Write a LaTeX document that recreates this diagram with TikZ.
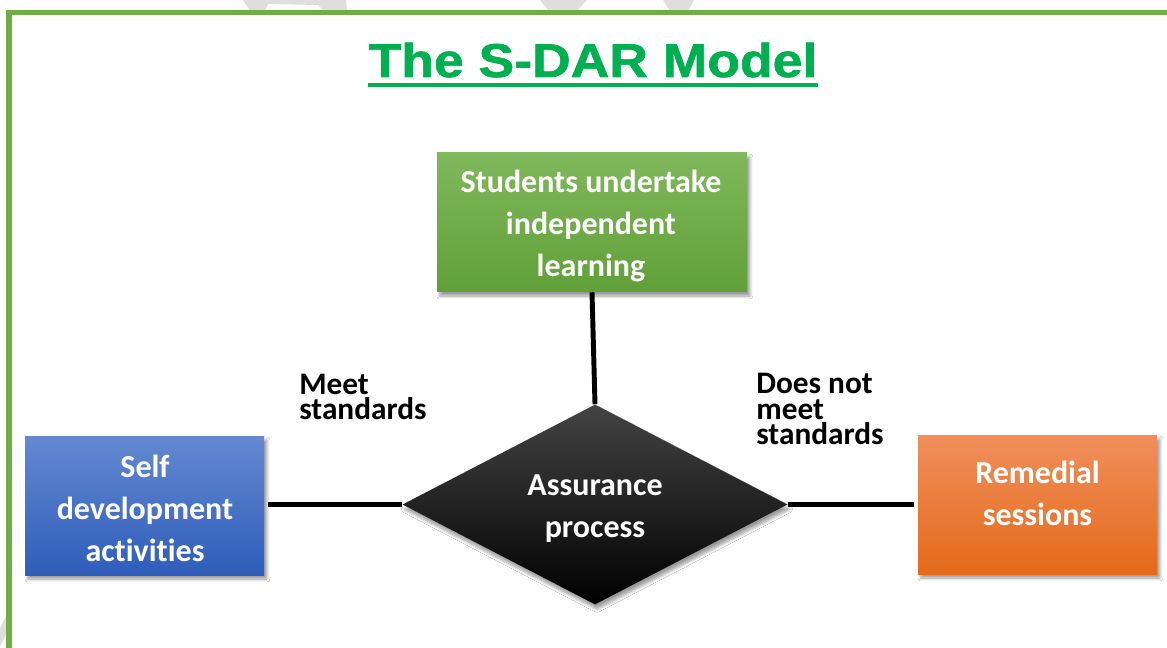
\documentclass[tikz,border=0pt]{standalone}
\usepackage{fontspec}
\setmainfont{Carlito}[Ligatures=NoCommon]
\newfontfamily\titlefont[FakeStretch=1.13,FakeBold=1.4]{Liberation Sans Bold}
\usetikzlibrary{shapes.geometric,shadows.blur}

\definecolor{framegreen}{RGB}{112,173,71}
\definecolor{titlegreen}{RGB}{0,176,80}
\definecolor{faintgrey}{RGB}{222,222,222}
\definecolor{gtop}{RGB}{128,184,92}
\definecolor{gbot}{RGB}{96,160,56}
\definecolor{btop}{RGB}{100,137,209}
\definecolor{bbot}{RGB}{46,93,186}
\definecolor{otop}{RGB}{240,143,92}
\definecolor{omid}{RGB}{242,122,40}
\definecolor{obot}{RGB}{228,106,26}
\definecolor{dtop}{RGB}{68,68,68}

\tikzset{
  softshadow/.style={blur shadow={shadow xshift=2.2pt,shadow yshift=-3pt,
      shadow blur radius=2.2pt,shadow blur steps=6,shadow opacity=40}},
  panel/.style={rectangle,inner sep=0pt,softshadow},
  boxtext/.style={font=\bfseries\fontsize{24}{31.5}\selectfont,text=white,
      align=center,inner sep=0pt,anchor=base},
  sidelabel/.style={font=\bfseries\fontsize{23.5}{19.5}\selectfont,text=black,
      align=left,inner sep=0pt,anchor=base west},
  conn/.style={line width=3.7pt,black},
}

\begin{document}
\begin{tikzpicture}[x=0.75pt,y=-0.75pt]
\useasboundingbox (0,0) rectangle (1167,648);
\fill[white] (0,0) rectangle (1167,648);

% faint background mark, mostly hidden above the frame
\fill[faintgrey] (243,0) -- (346,0) -- (347,11) -- (324,11) -- (318,5) -- (268,4)
  -- (265,11) -- (250,11) -- cycle;
\fill[faintgrey] (540,0) -- (587,0) -- (577,11) -- (549,11) -- cycle;
\fill[faintgrey] (663,0) -- (694,0) -- (688,11) -- (670,11) -- cycle;
\fill[faintgrey] (0,628) -- (7,614) -- (7,633) -- (0,646) -- cycle;

% frame
\draw[framegreen,line width=4pt] (9,648) -- (9,12.5) -- (1167,12.5);

% title
\node[inner sep=0pt,anchor=base,text=titlegreen,
      font=\titlefont\fontsize{35.5}{40}\selectfont] (title) at (593,77)
      {The S-DAR Model};
\draw[titlegreen,line width=2.3pt]
  ([yshift=-6pt]title.base west) -- ([yshift=-6pt]title.base east);

% boxes
\node[panel,minimum width=232.5pt,minimum height=104.25pt,
      top color=gtop,bottom color=gbot] (learn) at (592,222.5) {};
\node[panel,minimum width=179.25pt,minimum height=104.25pt,
      top color=btop,bottom color=bbot] (self) at (144.5,505.5) {};
\node[panel,minimum width=179.25pt,minimum height=104.25pt,
      top color=otop,middle color=omid,bottom color=obot] (remed) at (1037.5,504.5) {};
\node[diamond,inner sep=0pt,aspect=1.925,minimum width=288.75pt,minimum height=150pt,
      top color=dtop,middle color=black,bottom color=black,
      blur shadow={shadow xshift=1.5pt,shadow yshift=-3.5pt,shadow blur radius=2.5pt,
      shadow blur steps=6,shadow opacity=40}] (assure) at (595,504.5) {};

% box texts (anchored on the baseline of the last line)
\node[boxtext] (learntext) at (591,277) {Students undertake\\independent\\learning};
\node[boxtext] (selftext) at (145,561) {Self\\development\\activities};
\node[boxtext] (remedtext) at (1037.5,525) {Remedial\\sessions};
\node[boxtext] (assuretext) at (595,537) {Assurance\\process};

% connectors
\draw[conn] (learn.south) -- (assure.north);
\draw[conn,shorten >=3pt] (assure.west) -- (assure.west -| self.east);
\draw[conn,shorten >=3pt] (assure.east) -- (assure.east -| remed.west);

% branch labels
\node[sidelabel] (meet) at (299,420) {Meet\\standards};
\node[sidelabel] (notmeet) at (756,445) {Does not\\meet\\standards};
\end{tikzpicture}
\end{document}
